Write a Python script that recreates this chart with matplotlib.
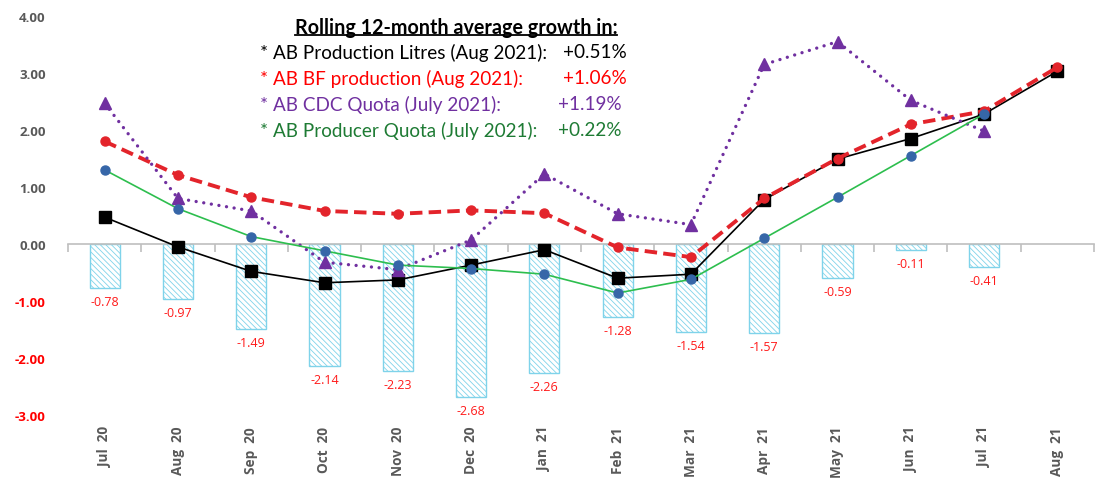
import matplotlib
matplotlib.use("Agg")
import matplotlib.pyplot as plt
from matplotlib.lines import Line2D
from matplotlib.transforms import blended_transform_factory
import numpy as np

months = ["Jul  20", "Aug  20", "Sep  20", "Oct  20", "Nov  20", "Dec  20", "Jan  21",
          "Feb  21", "Mar  21", "Apr  21", "May  21", "Jun  21", "Jul  21", "Aug  21"]
prod_litres = [0.47, -0.05, -0.48, -0.68, -0.63, -0.37, -0.10, -0.60, -0.53, 0.78, 1.49, 1.85, 2.28, 3.03]
bf_prod = [1.80, 1.21, 0.82, 0.58, 0.53, 0.59, 0.54, -0.06, -0.23, 0.80, 1.50, 2.10, 2.33, 3.10]
cdc_quota = [2.47, 0.80, 0.58, -0.32, -0.45, 0.07, 1.23, 0.53, 0.34, 3.15, 3.55, 2.52, 1.98, None]
producer_quota = [1.30, 0.62, 0.13, -0.12, -0.37, -0.43, -0.53, -0.86, -0.62, 0.10, 0.82, 1.55, 2.28, None]
bar_vals = [-0.78, -0.97, -1.49, -2.14, -2.23, -2.68, -2.26, -1.28, -1.54, -1.57, -0.59, -0.11, -0.41, None]
yticks = [4, 3, 2, 1, 0, -1, -2, -3]

legend_title = "Rolling 12-month average growth in:"
legend_lines = ["* AB Production Litres (Aug 2021):", "* AB BF production (Aug 2021):",
                "* AB CDC Quota (July 2021):", "* AB Producer Quota (July 2021):"]
legend_pcts = ["+0.51%", "+1.06%", "+1.19%", "+0.22%"]

FONT = "Lato"
W, H = 1097, 481
plt.rcParams["hatch.linewidth"] = 0.6
fig = plt.figure(figsize=(W / 100, H / 100), dpi=100)
left, right = 68 / W, 1094 / W
bottom, top = 1 - 416 / H, 1 - 17 / H
ax = fig.add_axes([left, bottom, right - left, top - bottom])

x = np.arange(len(months))
to_arr = lambda v: np.array([np.nan if a is None else a for a in v], dtype=float)

bars = to_arr(bar_vals)
bc = "#7FD3EA"
ax.bar(x, bars, width=0.41, facecolor="white", edgecolor=bc, hatch="\\\\\\\\\\\\", linewidth=1.0, zorder=1)
for xi, v in zip(x, bars):
    if not np.isnan(v):
        ax.annotate(f"{v:.2f}", (xi, v), xytext=(0, -5), textcoords="offset points",
                    ha="center", va="top", color="#FF1A1A", fontsize=9, family="Open Sans")

ax.plot(x, to_arr(prod_litres), color="black", lw=1.2, marker="s", ms=8, mfc="black", mec="black", zorder=3)
ax.plot(x, to_arr(bf_prod), color="#E3242B", lw=2.8, ls=(0, (3.2, 1.6)), marker="o", ms=6.5,
        mfc="#E3242B", mec="#E3242B", zorder=4)
ax.plot(x, to_arr(cdc_quota), color="#7030A0", lw=2.4, ls=(0, (0.01, 2.3)), dash_capstyle="round",
        marker="^", ms=8, mfc="#7030A0", mec="#7030A0", zorder=5)
ax.plot(x, to_arr(producer_quota), color="#2DBE4E", lw=1.2, marker="o", ms=6.5, mfc="#3666A8",
        mec="#3666A8", zorder=6)

ax.set_xlim(-0.5, len(months) - 0.5)
ax.set_ylim(-3, 4)
for s in ["left", "right", "top"]:
    ax.spines[s].set_visible(False)
ax.spines["bottom"].set_position(("data", 0))
ax.spines["bottom"].set_color("#BFBFBF")
ax.spines["bottom"].set_linewidth(1.2)
ax.spines["bottom"].set_zorder(2)
ax.set_xticks(np.arange(len(months) + 1) - 0.5)
ax.set_xticklabels([])
ax.tick_params(axis="x", direction="out", length=6, color="#BFBFBF", width=1.2)
ax.set_yticks(yticks)
ax.set_yticklabels([f"{t:.2f}" for t in yticks])
ax.tick_params(axis="y", length=0, pad=16)
for lab, t in zip(ax.get_yticklabels(), yticks):
    lab.set_family("Open Sans")
    lab.set_fontweight("bold")
    lab.set_fontsize(9.5)
    lab.set_color("#595959" if t >= 0 else "#FF0000")

tr = blended_transform_factory(ax.transData, fig.transFigure)
for xi, m in zip(x, months):
    ax.text(xi, 1 - 427 / H, m, transform=tr, rotation=90, ha="center", va="top",
            fontsize=9.8, fontweight="bold", color="#595959", family="Open Sans", clip_on=False)

# legend box text
t = fig.text(456 / W, 1 - 28 / H, legend_title, ha="center", va="center", fontsize=14.2,
             fontweight="bold", family=FONT, color="black")
fs = 13.6
colors = ["black", "#FF0000", "#7030A0", "#1E7B34"]
ys = [53, 79, 105, 131]
pct_x = [563, 563, 558, 558]
for line, pct, c, yy, px in zip(legend_lines, legend_pcts, colors, ys, pct_x):
    fig.text(260 / W, 1 - yy / H, line, ha="left", va="center", fontsize=fs, family=FONT, color=c)
    fig.text(px / W, 1 - yy / H, pct, ha="left", va="center", fontsize=fs, family=FONT, color=c)

fig.canvas.draw()
bb = t.get_window_extent().transformed(fig.transFigure.inverted())
fig.add_artist(Line2D([bb.x0, bb.x1], [bb.y0 + 0.004, bb.y0 + 0.004], transform=fig.transFigure,
                      color="black", lw=1.3))

fig.savefig("out.png", dpi=100)
